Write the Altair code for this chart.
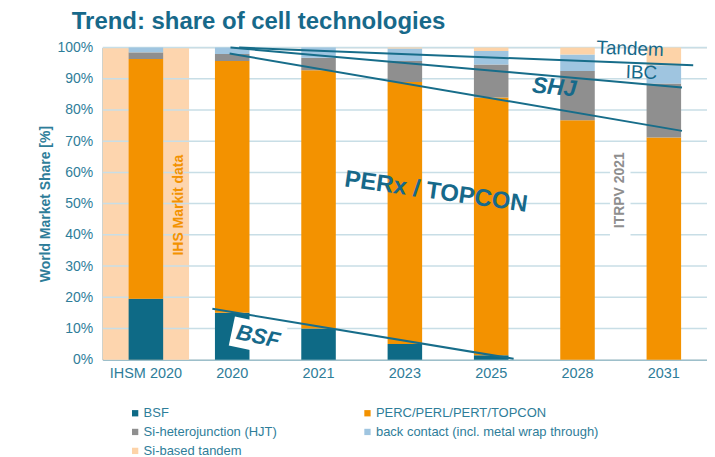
import altair as alt
import pandas as pd

# ---------------- data ----------------
categories = ["IHSM 2020", "2020", "2021", "2023", "2025", "2028", "2031"]
series = ["BSF", "PERC/PERL/PERT/TOPCON", "Si-heterojunction (HJT)",
          "back contact (incl. metal wrap through)", "Si-based tandem"]
bsf = [19.5, 15.0, 10.0, 5.0, 1.4, 0.0, 0.0]
perc = [76.8, 80.7, 82.7, 84.0, 82.6, 76.7, 71.2]
hjt = [2.1, 2.2, 4.0, 6.7, 10.6, 15.8, 17.3]
back_contact = [1.6, 2.1, 3.3, 4.0, 4.3, 5.3, 5.8]
tandem = [0.0, 0.0, 0.0, 0.3, 1.1, 2.2, 5.7]
colors = ["#0E6A86", "#F39200", "#8F8F8F", "#9FC5E0", "#FDD3A8"]

y_ticks = [0, 10, 20, 30, 40, 50, 60, 70, 80, 90, 100]

# trend lines (x in category-index units 0..7, y in %)
trend_names = ["Tandem", "IBC", "SHJ", "BSF"]
trend_x0 = [1.58, 1.48, 1.47, 1.27]
trend_y0 = [100.0, 100.0, 98.1, 16.3]
trend_x1 = [6.84, 6.71, 6.71, 4.76]
trend_y1 = [94.3, 87.2, 73.3, 0.3]

# annotation labels
lab_text = ["PERx / TOPCON", "BSF", "SHJ", "Tandem", "IBC", "IHS Markit data", "ITRPV 2021"]
lab_x = [3.86, 1.80, 5.23, 6.11, 6.24, 0.88, 5.995]
lab_y = [53.7, 7.4, 87.2, 99.6, 92.0, 49.5, 54.3]

# IHS data source shaded region
ihs_x = [0.0, 1.0]

TEAL = "#17698A"
LABEL = "#2E7D99"
FONT = "Liberation Sans"

# ---------------- tables ----------------
rows = []
vals = [bsf, perc, hjt, back_contact, tandem]
for si, s in enumerate(series):
    for ci, c in enumerate(categories):
        rows.append({"cat": c, "series": s, "order": si, "value": vals[si][ci]})
bars_df = pd.DataFrame(rows)

line_rows = []
for i, n in enumerate(trend_names):
    line_rows.append({"name": n, "x": trend_x0[i], "y": trend_y0[i]})
    line_rows.append({"name": n, "x": trend_x1[i], "y": trend_y1[i]})
lines_df = pd.DataFrame(line_rows)

labels_df = pd.DataFrame({"text": lab_text, "x": lab_x, "y": lab_y})

yscale = alt.Scale(domain=[0, 100], nice=False, zero=True)
yaxis = alt.Axis(format=".0f", values=y_ticks, labelExpr="datum.value + '%'",
                 grid=False, ticks=False, labelPadding=10, labelFontSize=14,
                 labelColor=LABEL, labelFont=FONT, title="World Market Share [%]",
                 titleFontSize=14, titleColor=LABEL, titleFont=FONT, titleFontWeight="bold",
                 titlePadding=5, domainColor="#8FB0BA", domainWidth=1.5)
qx = alt.Scale(domain=[0, 7], nice=False, zero=False)

# background region
bg = alt.Chart(pd.DataFrame({"x": [ihs_x[0]], "x2": [ihs_x[1]], "y": [0], "y2": [100]})).mark_rect(
    color="#FDD5AE").encode(
    x=alt.X("x:Q", scale=qx, axis=None),
    x2="x2:Q",
    y=alt.Y("y:Q", scale=yscale, axis=yaxis),
    y2="y2:Q",
)

grid = alt.Chart(pd.DataFrame({"y": y_ticks[1:]})).mark_rule(
    color="#C8DEE6", strokeWidth=1.5).encode(
    y=alt.Y("y:Q", scale=yscale, axis=yaxis),
)

bars = alt.Chart(bars_df).mark_bar().encode(
    x=alt.X("cat:N", sort=categories,
            scale=alt.Scale(paddingInner=0.6, paddingOuter=0.3),
            axis=alt.Axis(title=None, labelAngle=0, ticks=False, labelPadding=7,
                          labelFontSize=14.5, labelColor=LABEL, labelFont=FONT,
                          domainColor="#9DBFCA", domainWidth=1.5)),
    y=alt.Y("value:Q", stack="zero", scale=yscale, axis=yaxis),
    color=alt.Color("series:N", sort=series,
                    scale=alt.Scale(domain=series, range=colors),
                    legend=alt.Legend(orient="none", legendX=26, legendY=360, columns=2,
                                      direction="horizontal",
                                      title=None, symbolType="square", symbolSize=40,
                                      symbolStrokeWidth=0, labelFontSize=13,
                                      labelColor=LABEL, labelFont=FONT, labelLimit=400,
                                      columnPadding=84, rowPadding=5, labelOffset=2,
                                      gridAlign="each", padding=0)),
    order=alt.Order("order:Q", sort="ascending"),
)

lines = alt.Chart(lines_df).mark_line(color="#176D8A", strokeWidth=2).encode(
    x=alt.X("x:Q", scale=qx, axis=None),
    y=alt.Y("y:Q", scale=yscale, axis=yaxis),
    detail="name:N",
)

# white boxes behind BSF and ITRPV labels
box_bsf = alt.Chart(labels_df[labels_df.text == "BSF"]).mark_point(
    shape="M-1,-0.55L1,-0.55L1,0.55L-1,0.55Z", filled=True, color="white",
    opacity=1, size=2900, angle=12).encode(
    x=alt.X("x:Q", scale=qx, axis=None),
    y=alt.Y("y:Q", scale=yscale, axis=yaxis),
)
box_itrpv = alt.Chart(labels_df[labels_df.text == "ITRPV 2021"]).mark_point(
    shape="M-0.22,-1L0.22,-1L0.22,1L-0.22,1Z", filled=True, color="white",
    opacity=1, size=8800).encode(
    x=alt.X("x:Q", scale=qx, axis=None),
    y=alt.Y("y:Q", scale=yscale, axis=yaxis),
)


def txt(label, size, angle, weight="normal", style="normal", color=TEAL):
    return alt.Chart(labels_df[labels_df.text == label]).mark_text(
        fontSize=size, angle=angle, fontWeight=weight, fontStyle=style, color=color,
        font=FONT, align="center", baseline="middle").encode(
        x=alt.X("x:Q", scale=qx, axis=None),
        y=alt.Y("y:Q", scale=yscale, axis=yaxis),
        text="text:N",
    )


t_perx = txt("PERx / TOPCON", 24, 8, "bold")
t_bsf = txt("BSF", 22, 12, "bold", "italic")
t_shj = txt("SHJ", 23, 5, "bold", "italic")
t_tandem = txt("Tandem", 19, 2)
t_ibc = txt("IBC", 19, 2)
t_ihs = txt("IHS Markit data", 14, 270, "bold", color="#F39200")
t_itrpv = txt("ITRPV 2021", 14, 270, "bold", color="#8E8E8E")

chart = alt.layer(
    bg, grid, bars, lines, box_bsf, box_itrpv,
    t_perx, t_bsf, t_shj, t_tandem, t_ibc, t_ihs, t_itrpv,
).resolve_scale(x="independent").properties(
    width=606, height=313,
    autosize=alt.AutoSizeParams(type="none"),
    padding={"left": 95, "top": 39, "right": 0, "bottom": 110},
    title=alt.Title("Trend: share of cell technologies", anchor="start", frame="group",
                    fontSize=24, fontWeight="bold", color=TEAL, font=FONT,
                    dx=-31, dy=9, offset=14),
).configure_view(stroke="#A5C7D2", strokeWidth=1.5).configure(font=FONT)

chart.save("out.html", embed_options={"renderer": "svg", "actions": False})
